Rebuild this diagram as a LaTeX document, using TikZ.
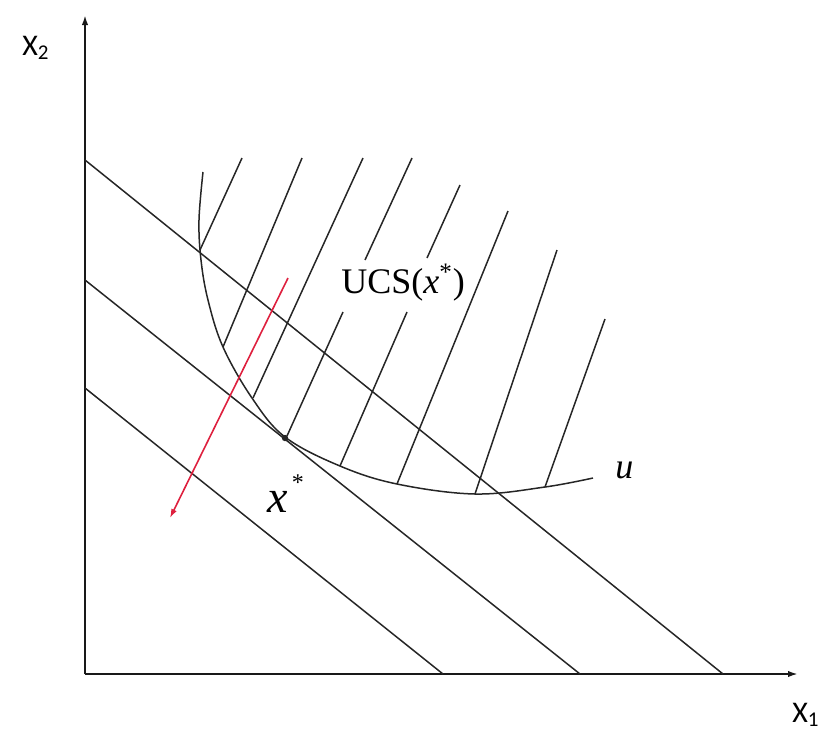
\documentclass[tikz,border=0pt]{standalone}
\usepackage{fontspec}
\setmainfont{Liberation Serif}
\newfontfamily\axfont{Carlito}
\usetikzlibrary{arrows.meta}
\definecolor{arrred}{RGB}{222,32,62}
\begin{document}
\begin{tikzpicture}[x=0.5pt,y=-0.5pt,
  thinline/.style={line width=0.75pt,black!85},
  axisline/.style={line width=0.95pt,black!90,-{Latex[length=5pt,width=3.2pt]}},
  axlabel/.style={inner sep=0pt,anchor=base west,font=\axfont\fontsize{15}{15}\selectfont},
  serlabel/.style={inner sep=0pt,anchor=base west,font=\fontsize{18}{18}\selectfont}]
\useasboundingbox (0,0) rectangle (827,736);
% axes
\coordinate (O) at (85,674);
\coordinate (ytop) at (85,15);
\coordinate (xend) at (798,674);
\draw[axisline] (O) -- (ytop);
\draw[axisline] (O) -- (xend);
\node[axlabel] (X2) at (22,55) {X\textsubscript{2}};
\node[axlabel] (X1) at (792,722) {X\textsubscript{1}};
% budget lines
\coordinate (a1) at (85,160);  \coordinate (b1) at (723,674);
\coordinate (a2) at (85,280);  \coordinate (b2) at (580,674);
\coordinate (a3) at (85,388);  \coordinate (b3) at (443,674);
\draw[thinline] (a1) -- (b1);
\draw[thinline] (a2) -- (b2);
\draw[thinline] (a3) -- (b3);
% indifference curve u
\draw[thinline] plot[smooth,tension=0.6] coordinates {(203,172) (199,220) (201,260) (208,300) (223,347) (252,398) (285,437) (340,466) (397,484) (475,494) (545,487) (593,478)};
\node[serlabel,font=\itshape\fontsize{18}{18}\selectfont] (u) at (615,478) {u};
% hatching (upper contour set)
\draw[thinline] (200,250) -- (242,158);
\draw[thinline] (223,347) -- (302,158);
\draw[thinline] (253,398) -- (363,158);
\draw[thinline] (287,436) -- (343,312);
\draw[thinline] (365,260) -- (412,158);
\draw[thinline] (340,466) -- (407,312);
\draw[thinline] (427,258) -- (460,185);
\draw[thinline] (397,484) -- (508,211);
\draw[thinline] (475,494) -- (557,250);
\draw[thinline] (545,487) -- (605,319);
\node[serlabel] (ucs) at (341,293) {UCS(\textit{x}\textsuperscript{*})};
% optimum point
\fill[black!85] (285,438) circle (1.6pt);
\node[inner sep=0pt,anchor=base west] (xstar) at (267,512) {\fontsize{23}{23}\selectfont\textit{x}\hspace{2pt}\raisebox{11pt}{\fontsize{12}{12}\selectfont *}};
% red arrow
\coordinate (r1) at (288,278);
\coordinate (r2) at (170,518);
\draw[arrred,line width=0.8pt,-{Latex[length=4.5pt,width=3pt]}] (r1) -- (r2);
\end{tikzpicture}
\end{document}
